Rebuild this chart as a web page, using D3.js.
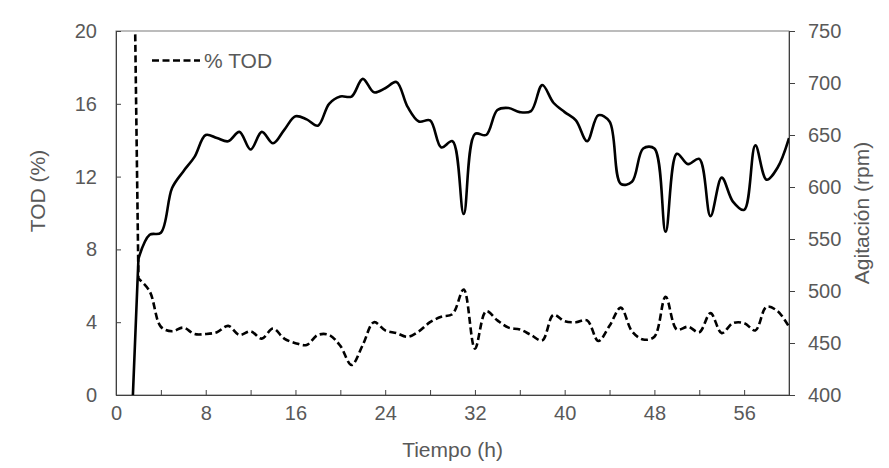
<!DOCTYPE html>
<html>
<head>
<meta charset="utf-8">
<script src="https://cdn.jsdelivr.net/npm/d3@7/dist/d3.min.js"></script>
<style>
  html, body { margin: 0; padding: 0; background: #ffffff; }
  svg { display: block; font-family: "Liberation Sans", Arial, sans-serif; }
  .axis text { fill: #595959; font-size: 20px; }
  .axis path, .axis line { stroke: #404040; stroke-width: 1; }
</style>
</head>
<body>
<svg id="chart" width="889" height="468"></svg>
<script>
// Sampling times (h)
const tiempo = [0, 2, 3, 4, 5, 6, 7, 8, 9, 10, 11, 12, 13, 14, 15, 16, 17, 18, 19, 20,
  21, 22, 23, 24, 25, 26, 27, 28, 29, 30, 31, 32, 33, 34, 35, 36, 37, 38, 39, 40,
  41, 42, 43, 44, 45, 46, 47, 48, 49, 50, 51, 52, 53, 54, 55, 56, 57, 58, 59, 60];

// Dissolved oxygen tension (%)
const tod = [100, 6.4, 5.7, 3.75, 3.5, 3.7, 3.35, 3.35, 3.45, 3.8, 3.3, 3.5, 3.1, 3.65, 3.1, 2.85, 2.75, 3.3, 3.3, 2.7,
  1.65, 2.75, 4.0, 3.55, 3.4, 3.2, 3.5, 4.0, 4.3, 4.45, 5.8, 2.55, 4.6, 4.1, 3.7, 3.6, 3.3, 3.0, 4.4, 4.05,
  4.0, 4.1, 2.97, 3.8, 4.8, 3.5, 3.05, 3.2, 5.4, 3.6, 3.75, 3.45, 4.5, 3.4, 3.95, 3.95, 3.55, 4.85, 4.6, 3.75];

// Agitation speed (rpm)
const agitacion = [0, 531, 554, 556, 599, 615, 629, 650, 647, 644, 653, 636, 653, 642, 655, 668, 665, 659, 680, 687,
  687, 704, 691, 695, 701, 677, 663, 664, 638, 644, 574, 651, 650, 674, 676, 672, 673, 698, 681, 672,
  664, 644, 669, 663, 603, 605, 637, 637, 557, 632, 622, 627, 572, 609, 586, 578, 640, 607, 619, 647];

// Axis ticks
const ticksX = [0, 4, 8, 12, 16, 20, 24, 28, 32, 36, 40, 44, 48, 52, 56, 60];
const labelsX = [0, 8, 16, 24, 32, 40, 48, 56];
const ticksTOD = [0, 4, 8, 12, 16, 20];
const ticksRPM = [400, 450, 500, 550, 600, 650, 700, 750];

const svg = d3.select("#chart");
const L = 116, R = 789, T = 31, B = 395;

const x = d3.scaleLinear().domain([0, 60]).range([L, R]);
const yL = d3.scaleLinear().domain([0, 20]).range([B, T]);
const yR = d3.scaleLinear().domain([400, 750]).range([B, T]);

svg.append("defs").append("clipPath").attr("id", "plotclip")
  .append("rect").attr("x", L).attr("y", T).attr("width", R - L).attr("height", B - T);

// Plot frame
svg.append("rect")
  .attr("x", L).attr("y", T).attr("width", R - L).attr("height", B - T)
  .attr("fill", "none").attr("stroke", "#7a7a7a").attr("stroke-width", 1);

// Left axis (ticks inside)
svg.append("g").attr("class", "axis")
  .attr("transform", `translate(${L},0)`)
  .call(d3.axisLeft(yL).tickValues(ticksTOD).tickSizeInner(-5).tickSizeOuter(0).tickPadding(19));

// Right axis (ticks outside)
svg.append("g").attr("class", "axis")
  .attr("transform", `translate(${R},0)`)
  .call(d3.axisRight(yR).tickValues(ticksRPM).tickSizeInner(6).tickSizeOuter(0).tickPadding(13));

// Bottom axis (ticks inside, labels every 8 h)
svg.append("g").attr("class", "axis")
  .attr("transform", `translate(0,${B})`)
  .call(d3.axisBottom(x).tickValues(ticksX).tickSizeInner(-5).tickSizeOuter(0).tickPadding(11)
    .tickFormat(d => labelsX.includes(d) ? d : ""));

// Axis titles
svg.append("text")
  .attr("transform", "translate(45,191) rotate(-90)")
  .attr("text-anchor", "middle")
  .attr("fill", "#595959").attr("font-size", 21)
  .text("TOD (%)");

svg.append("text")
  .attr("transform", `translate(869,${(T + B) / 2}) rotate(-90)`)
  .attr("text-anchor", "middle")
  .attr("fill", "#595959").attr("font-size", 21)
  .text("Agitación (rpm)");

svg.append("text")
  .attr("x", (L + R) / 2).attr("y", 457)
  .attr("text-anchor", "middle")
  .attr("fill", "#595959").attr("font-size", 21)
  .text("Tiempo (h)");

// Series: straight start-up segment, smoothed afterwards
const plot = svg.append("g").attr("clip-path", "url(#plotclip)");
const curve = d3.curveCatmullRom.alpha(0.5);

function seriesPath(values, y) {
  const pts = values.map((v, i) => [x(tiempo[i]), y(v)]);
  const start = d3.line()(pts.slice(0, 2));
  const rest = d3.line().curve(curve)(pts.slice(1));
  return start + rest.replace(/^M/, "L");
}

plot.append("path")
  .attr("d", seriesPath(agitacion, yR))
  .attr("fill", "none").attr("stroke", "#000").attr("stroke-width", 2.6)
  .attr("stroke-linejoin", "round");

plot.append("path")
  .attr("d", seriesPath(tod, yL))
  .attr("fill", "none").attr("stroke", "#000").attr("stroke-width", 2.6)
  .attr("stroke-dasharray", "7,3.5");

// Legend
const lg = svg.append("g");
lg.append("line")
  .attr("x1", 152).attr("x2", 200).attr("y1", 60.5).attr("y2", 60.5)
  .attr("stroke", "#000").attr("stroke-width", 2.6).attr("stroke-dasharray", "7,3.5");
lg.append("text")
  .attr("x", 204).attr("y", 68)
  .attr("fill", "#595959").attr("font-size", 21)
  .text("% TOD");
</script>
</body>
</html>
